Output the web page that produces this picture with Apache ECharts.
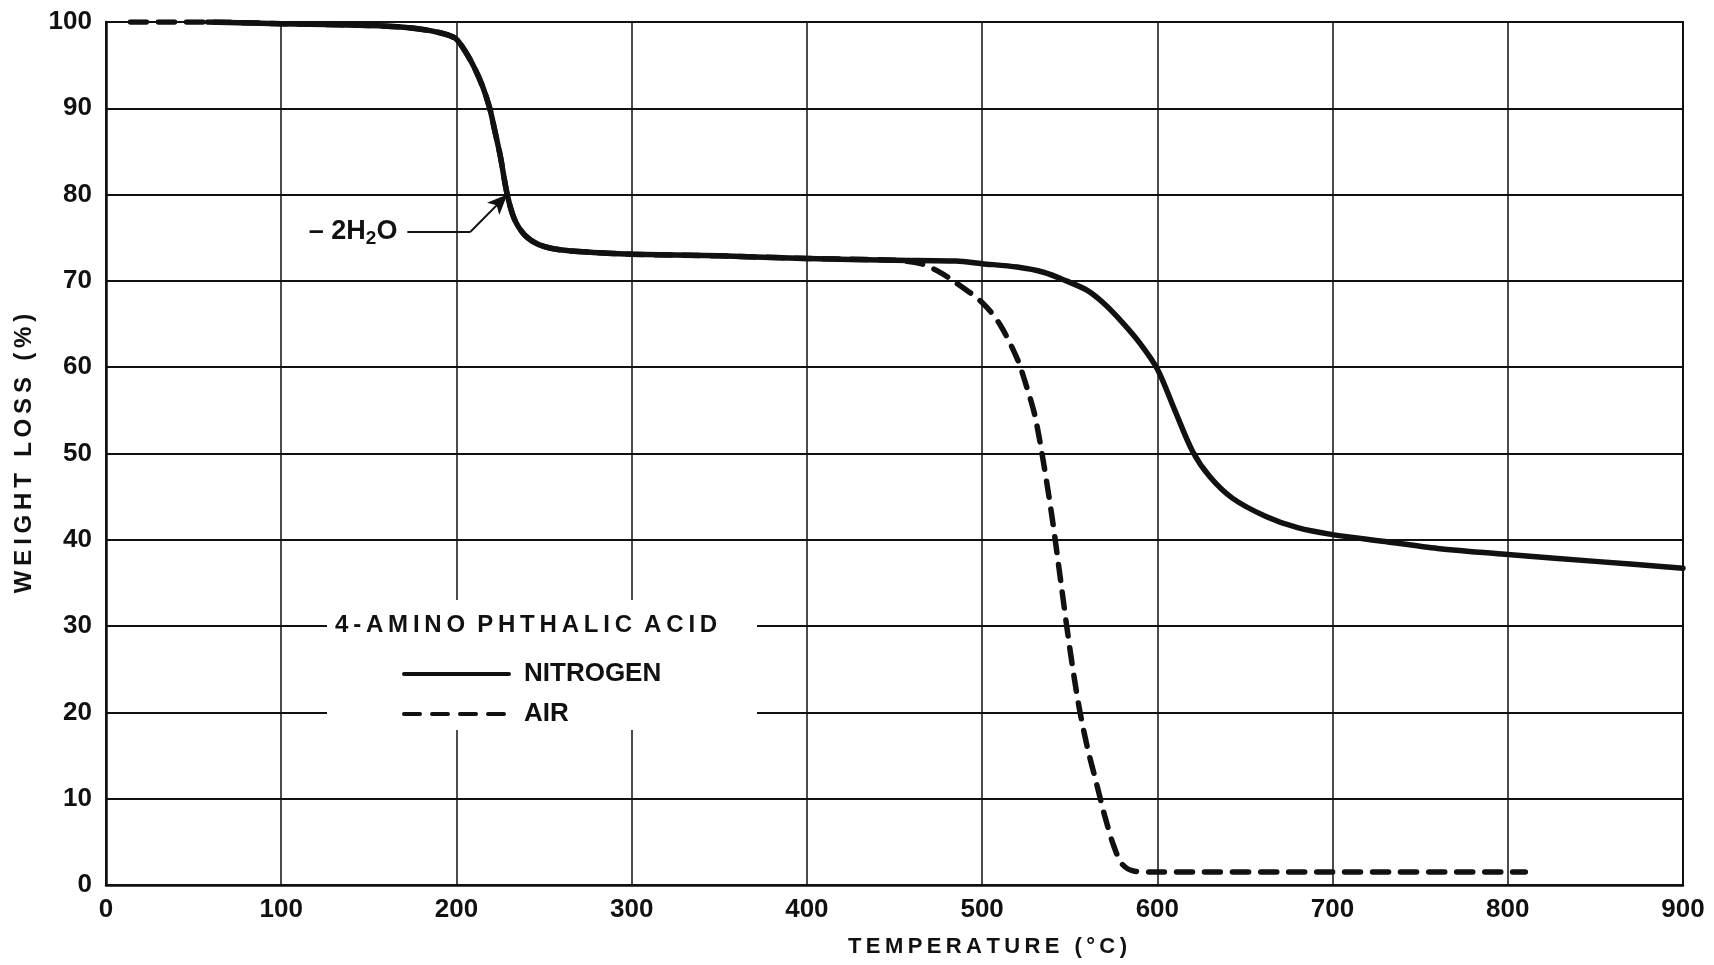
<!DOCTYPE html>
<html>
<head>
<meta charset="utf-8">
<title>4-Amino phthalic acid TGA</title>
<script src="https://cdn.jsdelivr.net/npm/echarts@6/dist/echarts.min.js"></script>
<style>
  html, body { margin: 0; padding: 0; background: #ffffff; }
  #main { width: 1714px; height: 965px; }
</style>
</head>
<body>
<div id="main"></div>
<script>
// nitrogen run (solid)
const n2Temp = [58, 100, 150, 170, 185, 195, 200, 205, 210, 215, 219, 222, 225, 229, 233, 239, 247, 259, 278, 300,
  350, 400, 450, 485, 500, 520, 535, 548, 560, 570, 580, 590, 600, 610, 620, 630, 643, 662, 680, 700,
  730, 760, 800, 850, 900]
const n2Loss = [100, 99.8, 99.6, 99.4, 99.0, 98.5, 98.0, 96.6, 94.8, 92.5, 90.0, 87.3, 84.5, 80.0, 77.2, 75.3, 74.2, 73.6, 73.3, 73.1,
  72.9, 72.6, 72.4, 72.3, 72.0, 71.6, 71.0, 70.0, 68.9, 67.3, 65.2, 62.8, 59.8, 55.0, 50.3, 47.3, 44.8, 42.7, 41.4, 40.6,
  39.8, 39.0, 38.3, 37.5, 36.7]

// air run (dashed)
const airTemp = [14, 58, 100, 150, 170, 185, 195, 200, 205, 210, 215, 219, 222, 225, 229, 233, 239, 247, 259, 278,
  300, 350, 400, 450, 465, 475, 485, 500, 510, 520, 525, 530, 535, 540, 545, 550, 555, 560, 565, 570,
  575, 580, 587, 600, 700, 810]
const airLoss = [100, 100, 99.8, 99.6, 99.4, 99.0, 98.5, 98.0, 96.6, 94.8, 92.5, 90.0, 87.3, 84.5, 80.0, 77.2, 75.3, 74.2, 73.6, 73.3,
  73.1, 72.9, 72.6, 72.4, 72.0, 71.1, 69.8, 67.5, 65.0, 61.0, 58.0, 54.5, 49.0, 42.5, 35.0, 27.5, 21.0, 16.0, 12.0, 8.0,
  4.6, 2.4, 1.6, 1.5, 1.5, 1.5]

// -2H2O leader: start, elbow, arrow tip (data units)
const notePath = [[172, 75.7], [208, 75.7], [229, 80]]

const FONT = 'Liberation Sans'
const ink = '#111111'

// the original lettering is spread out
function spaced(s) {
  return s.split('').join('\u2009')
}

function pairs(xs, ys) {
  return xs.map(function(x, i) { return [x, ys[i]] })
}

const chart = echarts.init(document.getElementById('main'))

const option = {
  backgroundColor: '#ffffff',
  animation: false,
  grid: {
    left: 106,
    right: 31,
    top: 22,
    bottom: 80,
    show: true,
    borderColor: ink,
    borderWidth: 2
  },
  legend: {
    orient: 'vertical',
    left: 397,
    top: 654,
    itemWidth: 105,
    itemHeight: 16,
    itemGap: 10,
    itemStyle: { opacity: 0 },
    data: ['NITROGEN', 'AIR'],
    textStyle: {
      fontFamily: FONT,
      fontWeight: 'bold',
      fontSize: 26,
      color: ink,
      lineHeight: 30,
      padding: [0, 0, 0, 10]
    },
    lineStyle: { width: 4 }
  },
  xAxis: {
    type: 'value',
    min: 0,
    max: 900,
    interval: 100,
    name: spaced('TEMPERATURE (°C)'),
    nameLocation: 'middle',
    nameGap: 51,
    nameTextStyle: {
      fontFamily: FONT, fontWeight: 'bold', fontSize: 22, color: ink,
      padding: [0, 0, 0, 186]
    },
    axisLine: { show: true, onZero: false, lineStyle: { color: ink, width: 2.5 } },
    axisTick: { show: false },
    axisLabel: { fontFamily: FONT, fontWeight: 'bold', fontSize: 26, color: ink, margin: 12 },
    splitLine: { show: true, lineStyle: { color: ink, width: 1.5 } }
  },
  yAxis: {
    type: 'value',
    min: 0,
    max: 100,
    interval: 10,
    name: spaced('WEIGHT LOSS (%)'),
    nameLocation: 'middle',
    nameGap: 70,
    nameTextStyle: { fontFamily: FONT, fontWeight: 'bold', fontSize: 24, color: ink },
    axisLine: { show: true, lineStyle: { color: ink, width: 2.5 } },
    axisTick: { show: false },
    axisLabel: { fontFamily: FONT, fontWeight: 'bold', fontSize: 26, color: ink, margin: 14 },
    splitLine: { show: true, lineStyle: { color: ink, width: 1.8 } }
  },
  graphic: [
    {
      // blank patch behind the key
      type: 'rect',
      z: 1,
      shape: { x: 327, y: 600, width: 430, height: 130 },
      style: { fill: '#ffffff' }
    },
    {
      type: 'text',
      z: 3,
      x: 335,
      y: 625,
      style: {
        text: spaced('4-AMINO') + '\u2002' + spaced('PHTHALIC') + '\u2002' + spaced('ACID'),
        fontFamily: FONT,
        fontWeight: 'bold',
        fontSize: 24,
        fill: ink,
        verticalAlign: 'middle'
      }
    }
  ],
  series: [
    {
      name: 'AIR',
      type: 'line',
      z: 2,
      data: pairs(airTemp, airLoss),
      symbol: 'none',
      smooth: 0.3,
      itemStyle: { color: ink },
      lineStyle: { color: ink, width: 5.5, type: [16, 12], cap: 'round' }
    },
    {
      name: 'NITROGEN',
      type: 'line',
      z: 3,
      data: pairs(n2Temp, n2Loss),
      symbol: 'none',
      smooth: 0.3,
      itemStyle: { color: ink },
      lineStyle: { color: ink, width: 5.5, cap: 'round', join: 'round' },
      markLine: {
        silent: true,
        animation: false,
        lineStyle: { color: ink, width: 2, type: 'solid' },
        label: { show: false },
        data: [
          [
            {
              coord: notePath[0],
              symbol: 'none',
              label: {
                show: true,
                position: 'start',
                distance: 10,
                formatter: '{a|– 2H}{b|2}{a|O}',
                rich: {
                  a: { fontFamily: FONT, fontWeight: 'bold', fontSize: 27, color: ink },
                  b: { fontFamily: FONT, fontWeight: 'bold', fontSize: 19, color: ink, padding: [14, 0, 0, 0] }
                }
              }
            },
            { coord: notePath[1], symbol: 'none' }
          ],
          [
            { coord: notePath[1], symbol: 'none' },
            { coord: notePath[2], symbol: 'arrow', symbolSize: [13, 20] }
          ]
        ]
      }
    }
  ]
}

chart.setOption(option)
</script>
</body>
</html>
